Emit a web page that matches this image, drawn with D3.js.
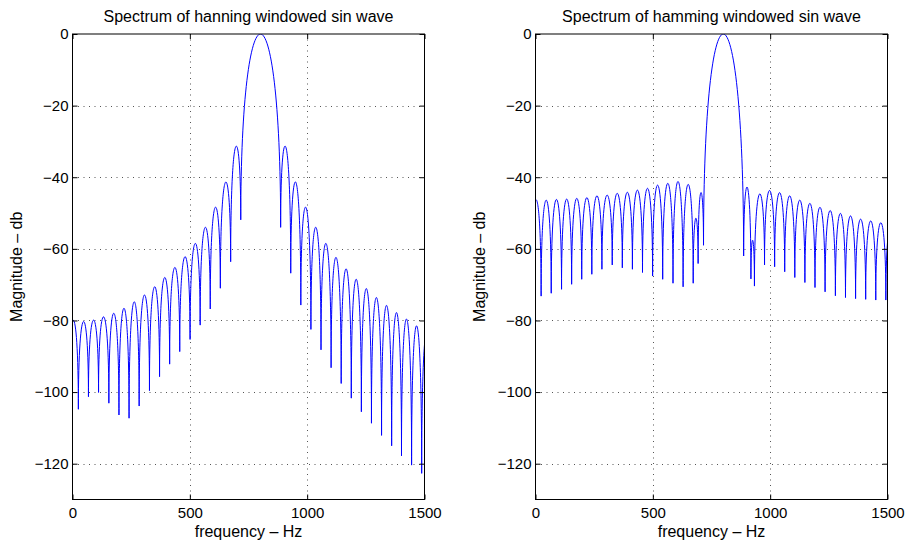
<!DOCTYPE html>
<html><head><meta charset="utf-8">
<script src="https://cdn.jsdelivr.net/npm/d3@7"></script>
<style>
body{margin:0;background:#fff}
text{font-family:"Liberation Sans",Arial,Helvetica,sans-serif;fill:#000}
</style>
</head><body>
<svg id="c" width="908" height="544"></svg>
<script>
// ---- data ----
const xTicks = [0, 500, 1000, 1500];
const yTicks = [0, -20, -40, -60, -80, -100, -120];
const titles = ["Spectrum of hanning windowed sin wave", "Spectrum of hamming windowed sin wave"];
const xLabel = "frequency \u2013 Hz";
const yLabel = "Magnitude \u2013 db";

// Hanning: null frequencies (Hz) and depths (dB); first/last lie just outside the axis
const hanNullHz = [-18, 25, 68, 111, 155, 198, 241, 284, 328, 371, 414, 457, 501, 544, 587, 630, 674, 717,
  887, 930, 973, 1016, 1059, 1102, 1145, 1188, 1231, 1274, 1317, 1360, 1402, 1445, 1488, 1531];
const hanNullDb = [-105, -104.8, -101.3, -100.1, -103.1, -106.4, -107.3, -103.9, -99.6, -95.7, -92.2, -88.7,
  -85.3, -81.3, -76.8, -71.0, -63.6, -51.9, -54.0, -66.8, -75.7, -82.5, -88.2, -93.2, -97.6, -101.7, -105.5,
  -108.7, -112.1, -115.0, -117.8, -120.4, -122.7, -124];
// Hanning: lobe peaks (dB) between consecutive nulls
const hanPeakDb = [-80.0, -80.3, -79.9, -79.0, -78.0, -76.6, -74.8, -72.9, -70.6, -68.0, -65.2, -62.2, -58.5,
  -54.0, -48.4, -41.4, -31.5, 0, -31.5, -41.4, -48.4, -54.0, -58.5, -62.4, -65.6, -68.5, -71.1, -73.6, -75.8,
  -77.8, -79.6, -81.5, -83.2];

// Hamming
const hamNullHz = [-19, 24, 67, 111, 154, 197, 240, 283, 327, 370, 413, 456, 499, 542, 586, 629, 672, 693, 716,
  887, 918, 933, 976, 1019, 1062, 1105, 1148, 1191, 1234, 1278, 1321, 1364, 1407, 1450, 1493, 1536];
const hamNullDb = [-73, -73.2, -72.4, -71.3, -69.9, -68.5, -67.1, -65.7, -64.5, -65.3, -65.7, -66.6, -67.6,
  -68.5, -69.6, -70.6, -69.6, -64.1, -59.0, -62.0, -68.4, -70.4, -64.5, -65.0, -66.4, -68.0, -69.4, -70.8,
  -72.0, -73.1, -73.6, -73.9, -74.1, -74.3, -74.3, -74.5];
const hamPeakDb = [-46.3, -46.4, -46.2, -46.1, -45.9, -45.7, -45.2, -45.0, -44.5, -44.2, -43.6, -43.1, -42.2,
  -41.7, -41.2, -42.0, -51.5, -44.3, 0, -42.8, -57.6, -44.7, -43.7, -44.3, -45.2, -46.4, -47.3, -48.4, -49.3,
  -50.1, -50.8, -51.7, -52.2, -52.7, -53.2];

// ---- layout ----
const svg = d3.select("#c");
const plotTop = 34, plotBottom = 499.5, plotW = 352;
const panels = [
  {left: 72.5, title: titles[0], nHz: hanNullHz, nDb: hanNullDb, pDb: hanPeakDb, ylx: 22},
  {left: 535.5, title: titles[1], nHz: hamNullHz, nDb: hamNullDb, pDb: hamPeakDb, ylx: 485}
];
const fmt = d => d < 0 ? "\u2212" + Math.abs(d) : String(d);
const FONT = '"Liberation Sans",Arial,Helvetica,sans-serif';

panels.forEach((p, i) => {
  const x = d3.scaleLinear().domain([0, 1500]).range([p.left, p.left + plotW]);
  const y = d3.scaleLinear().domain([-130, 0]).range([plotBottom, plotTop]);
  const g = svg.append("g");

  const clipId = "clip" + i;
  svg.append("clipPath").attr("id", clipId).append("rect")
    .attr("x", x(0)).attr("y", y(0)).attr("width", x(1500) - x(0)).attr("height", y(-130) - y(0));

  // grid (dotted)
  g.selectAll(".gx").data(xTicks.filter(t => t > 0 && t < 1500)).join("line")
    .attr("x1", d => Math.round(x(d)) + 0.5).attr("x2", d => Math.round(x(d)) + 0.5)
    .attr("y1", y(0)).attr("y2", y(-130))
    .attr("stroke", "#555").attr("stroke-width", 1).attr("stroke-dasharray", "1,4.5");
  g.selectAll(".gy").data(yTicks.filter(t => t < 0)).join("line")
    .attr("y1", d => Math.round(y(d)) + 0.5).attr("y2", d => Math.round(y(d)) + 0.5)
    .attr("x1", x(0)).attr("x2", x(1500))
    .attr("stroke", "#555").attr("stroke-width", 1).attr("stroke-dasharray", "1,4.5");

  // spectrum: each lobe runs null -> null with its peak in between
  const path = d3.path();
  for (let k = 0; k < p.pDb.length; k++) {
    const X0 = x(p.nHz[k]), Y0 = y(p.nDb[k]);
    const X1 = x(p.nHz[k + 1]), Y1 = y(p.nDb[k + 1]);
    const P = y(p.pDb[k]);
    const c = (8 * P - Y0 - Y1) / 6;
    if (k === 0) path.moveTo(X0, Y0);
    path.bezierCurveTo(X0, c, X1, c, X1, Y1);
  }
  g.append("path").attr("d", path.toString())
    .attr("fill", "none").attr("stroke", "#0000ff").attr("stroke-width", 1)
    .attr("stroke-linejoin", "miter").attr("stroke-miterlimit", 30)
    .attr("clip-path", `url(#${clipId})`);

  // axes (ticks inward on all four sides)
  const ax = (gen, tx, ty, labels) => {
    const a = g.append("g").attr("transform", `translate(${tx},${ty})`).call(gen);
    a.select(".domain").remove();
    a.selectAll("line").attr("stroke", "#000");
    a.selectAll("text").attr("font-family", FONT).attr("font-size", 15).attr("fill", "#000");
    if (!labels) a.selectAll("text").remove();
    return a;
  };
  ax(d3.axisBottom(x).tickValues(xTicks).tickFormat(fmt).tickSizeInner(-5).tickSizeOuter(0).tickPadding(8), 0, plotBottom, true);
  ax(d3.axisTop(x).tickValues(xTicks).tickSizeInner(-5).tickSizeOuter(0), 0, plotTop, false);
  ax(d3.axisLeft(y).tickValues(yTicks).tickFormat(fmt).tickSizeInner(-5).tickSizeOuter(0).tickPadding(4), p.left, 0, true);
  ax(d3.axisRight(y).tickValues(yTicks).tickSizeInner(-5).tickSizeOuter(0), p.left + plotW, 0, false);

  // box
  g.append("rect").attr("x", x(0)).attr("y", y(0)).attr("width", x(1500) - x(0)).attr("height", y(-130) - y(0))
    .attr("fill", "none").attr("stroke", "#000").attr("stroke-width", 1);

  // texts
  g.append("text").attr("x", (x(0) + x(1500)) / 2).attr("y", 21.5).attr("text-anchor", "middle")
    .attr("font-size", 16).text(p.title);
  g.append("text").attr("x", (x(0) + x(1500)) / 2).attr("y", 537).attr("text-anchor", "middle")
    .attr("font-size", 16).text(xLabel);
  g.append("text").attr("transform", `translate(${p.ylx},${(plotTop + plotBottom) / 2}) rotate(-90)`)
    .attr("text-anchor", "middle").attr("font-size", 16).text(yLabel);
});
</script>
</body></html>
